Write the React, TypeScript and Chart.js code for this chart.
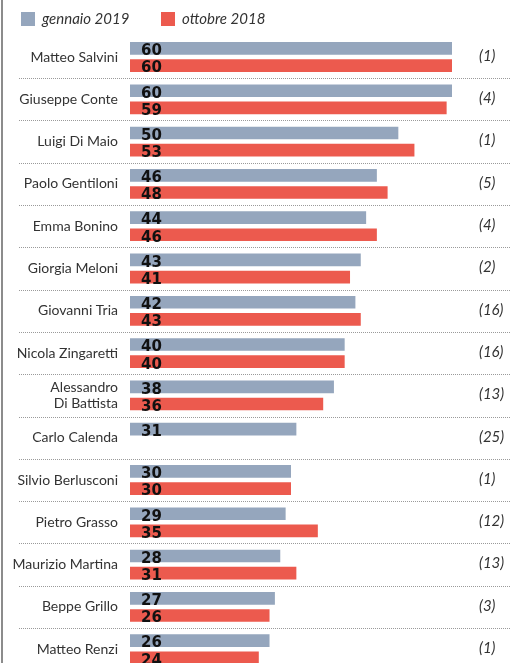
import { useEffect, useRef } from 'react';
import { Chart, registerables } from 'chart.js';

Chart.register(...registerables);

const categories: (string | string[])[] = [
  'Matteo Salvini',
  'Giuseppe Conte',
  'Luigi Di Maio',
  'Paolo Gentiloni',
  'Emma Bonino',
  'Giorgia Meloni',
  'Giovanni Tria',
  'Nicola Zingaretti',
  ['Alessandro', 'Di Battista'],
  'Carlo Calenda',
  'Silvio Berlusconi',
  'Pietro Grasso',
  'Maurizio Martina',
  'Beppe Grillo',
  'Matteo Renzi',
];

const gennaio2019: (number | null)[] = [60, 60, 50, 46, 44, 43, 42, 40, 38, 31, 30, 29, 28, 27, 26];
const ottobre2018: (number | null)[] = [60, 59, 53, 48, 46, 41, 43, 40, 36, null, 30, 35, 31, 26, 24];
const previousRank: string[] = ['(1)', '(4)', '(1)', '(5)', '(4)', '(2)', '(16)', '(16)', '(13)', '(25)', '(1)', '(12)', '(13)', '(3)', '(1)'];

const seriesLabels = ['gennaio 2019', 'ottobre 2018'];
const seriesColors = ['#95a6bd', '#ec5a4e'];

const FONT = 'Lato, "Noto Sans", sans-serif';

const decorPlugin = {
  id: 'decor',
  afterDraw(chart: any) {
    const { ctx } = chart;
    const yScale = chart.scales.y;
    ctx.save();

    // left frame line
    ctx.fillStyle = '#8c8c8c';
    ctx.fillRect(1, 0, 2, chart.height);

    // dotted separators between rows
    ctx.strokeStyle = '#9a9a9a';
    ctx.lineWidth = 1;
    ctx.setLineDash([1, 1]);
    const n = chart.data.labels.length;
    for (let i = 0; i < n - 1; i++) {
      const y = Math.round((yScale.getPixelForValue(i) + yScale.getPixelForValue(i + 1)) / 2) + 0.5;
      ctx.beginPath();
      ctx.moveTo(19, y);
      ctx.lineTo(511, y);
      ctx.stroke();
    }
    ctx.setLineDash([]);

    // value labels inside bars
    ctx.fillStyle = '#111';
    ctx.font = 'bold 15px "DejaVu Sans", sans-serif';
    ctx.textAlign = 'left';
    ctx.textBaseline = 'alphabetic';
    chart.data.datasets.forEach((ds: any, di: number) => {
      const meta = chart.getDatasetMeta(di);
      meta.data.forEach((bar: any, i: number) => {
        const v = ds.data[i];
        if (v === null || v === undefined) return;
        const props = bar.getProps(['y', 'base', 'height'], true);
        ctx.fillText(String(v), props.base + 11, props.y + props.height / 2 + 0.5);
      });
    });

    // previous rank column
    ctx.fillStyle = '#333';
    ctx.font = `italic 15px ${FONT}`;
    ctx.textBaseline = 'middle';
    previousRank.forEach((r, i) => {
      ctx.fillText(r, 479, yScale.getPixelForValue(i) - 1);
    });

    // legend
    const legendX = [21, 161];
    chart.data.datasets.forEach((ds: any, di: number) => {
      const x = legendX[di];
      ctx.fillStyle = ds.backgroundColor;
      ctx.fillRect(x, 12, 14, 14);
      ctx.fillStyle = '#333';
      ctx.font = `italic 15px ${FONT}`;
      ctx.textBaseline = 'middle';
      ctx.fillText(ds.label, x + 21, 19);
    });

    ctx.restore();
  },
};

export default function App() {
  const ref = useRef<HTMLCanvasElement>(null);

  useEffect(() => {
    document.body.style.margin = '0';
    document.body.style.overflow = 'hidden';
    const chart = new Chart(ref.current as HTMLCanvasElement, {
      type: 'bar',
      data: {
        labels: categories as any,
        datasets: [
          {
            label: seriesLabels[0],
            data: gennaio2019,
            backgroundColor: seriesColors[0],
            borderWidth: 0,
            categoryPercentage: 0.81,
            barPercentage: 0.74,
          },
          {
            label: seriesLabels[1],
            data: ottobre2018,
            backgroundColor: seriesColors[1],
            borderWidth: 0,
            categoryPercentage: 0.81,
            barPercentage: 0.74,
          },
        ],
      },
      options: {
        indexAxis: 'y',
        responsive: false,
        animation: false,
        layout: { padding: { top: 35.85, bottom: 9.65, left: 0, right: 65 } },
        scales: {
          x: { display: false, min: 0, max: 60 },
          y: {
            afterFit: (s: any) => {
              s.width = 130;
              s.paddingTop = 0;
              s.paddingBottom = 0;
            },
            grid: { display: false, drawTicks: false },
            border: { display: false },
            ticks: {
              padding: 12,
              color: '#333',
              font: { family: FONT, size: 14 },
              autoSkip: false,
            },
          },
        },
        plugins: {
          legend: { display: false },
          tooltip: { enabled: false },
        },
      },
      plugins: [decorPlugin],
    });
    return () => chart.destroy();
  }, []);

  return (
    <div style={{ width: 517, height: 663, overflow: 'hidden', position: 'relative', background: '#fff' }}>
      <canvas ref={ref} width={517} height={680} style={{ display: 'block' }} />
    </div>
  );
}
